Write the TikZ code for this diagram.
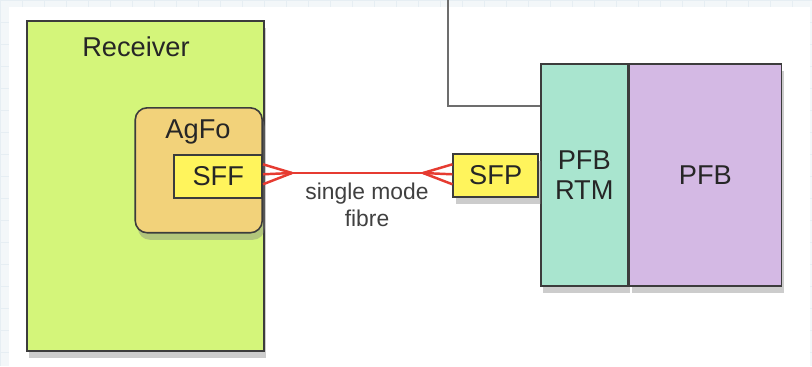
\documentclass[tikz,border=0pt]{standalone}
\usepackage{fontspec}
\setmainfont{Liberation Sans}
\usetikzlibrary{calc,shadows}

\definecolor{rxgreen}{HTML}{D4F57A}
\definecolor{agfoorange}{HTML}{F2D27A}
\definecolor{sfpyellow}{HTML}{FFF45C}
\definecolor{rtmteal}{HTML}{A9E5CF}
\definecolor{pfbviolet}{HTML}{D4B9E4}
\definecolor{fibrered}{HTML}{E63B31}
\definecolor{boxline}{HTML}{3C3C3C}
\definecolor{gridblue}{HTML}{E6EEF3}

\begin{document}
\begin{tikzpicture}[x=0.02cm,y=-0.02cm]
\tikzstyle{every node}+=[inner sep=0pt]
\tikzstyle{box}=[draw=boxline, line width=0.9pt, drop shadow={shadow xshift=1.5pt, shadow yshift=-4pt, opacity=0.4}]
\tikzstyle{boxtext}=[font=\fontsize{15.5}{17}\selectfont, text=black!85]
\tikzstyle{fibre}=[draw=fibrered, line width=1.4pt]
\useasboundingbox (0,0) rectangle (812,366);
% backdrop
\fill [gridblue!50] (0,0) rectangle (812,366);
\draw [gridblue, line width=0.4pt, step=0.44cm] (0,0) grid (812,366);
\fill [white] (9,7) rectangle (810,366);
% receiver side
\node [box, fill=rxgreen, anchor=north west, minimum width=4.74cm, minimum height=6.6cm] (rx) at (26,20) {};
\node [boxtext] (rxlabel) at (136,47) {Receiver};
\node [box, fill=agfoorange, rounded corners=0.24cm, anchor=north east, minimum width=2.54cm, minimum height=2.5cm] (agfo) at (263,107) {};
\node [boxtext] (agfolabel) at (198,132) {AgFo};
\node [draw=boxline, line width=0.9pt, fill=sfpyellow, anchor=north east, minimum width=1.76cm, minimum height=0.86cm] (sff) at (263,154) {};
\node [boxtext] (sfflabel) at (sff.center) {SFF};
% PFB side
\node [box, fill=rtmteal, anchor=north west, minimum width=1.74cm, minimum height=4.44cm] (rtm) at (540,63) {};
\node [boxtext, align=center] (rtmlabel) at (rtm.center) {PFB\\RTM};
\node [box, fill=pfbviolet, anchor=north west, minimum width=3.04cm, minimum height=4.44cm] (pfb) at (rtm.north east) {};
\node [boxtext] (pfblabel) at (pfb.center) {PFB};
\node [box, fill=sfpyellow, anchor=north east, minimum width=1.7cm, minimum height=0.86cm] (sfp) at (539,153) {};
\node [boxtext] (sfplabel) at (sfp.center) {SFP};
% link from above into the RTM
\coordinate (uplink) at (448,0);
\coordinate (tap) at ($(rtm.north west)+(0,43)$);
\draw [boxline!75, line width=0.9pt] (uplink) |- (tap);
% single mode fibre with fanned ends
\coordinate (fa) at (292,173);
\coordinate (fb) at (423,173);
\draw [fibre] (fa) -- (fb);
\foreach \dy in {-10,0,10} {
  \draw [fibre] (fa) -- ($(sff.east)+(0,\dy-2)$);
  \draw [fibre] (fb) -- ($(sfp.west)+(0,\dy-1)$);
}
\node [font=\fontsize{13}{15}\selectfont, text=black!75, align=center] (fibrelabel) at (367,205) {single mode\\fibre};
\end{tikzpicture}
\end{document}
